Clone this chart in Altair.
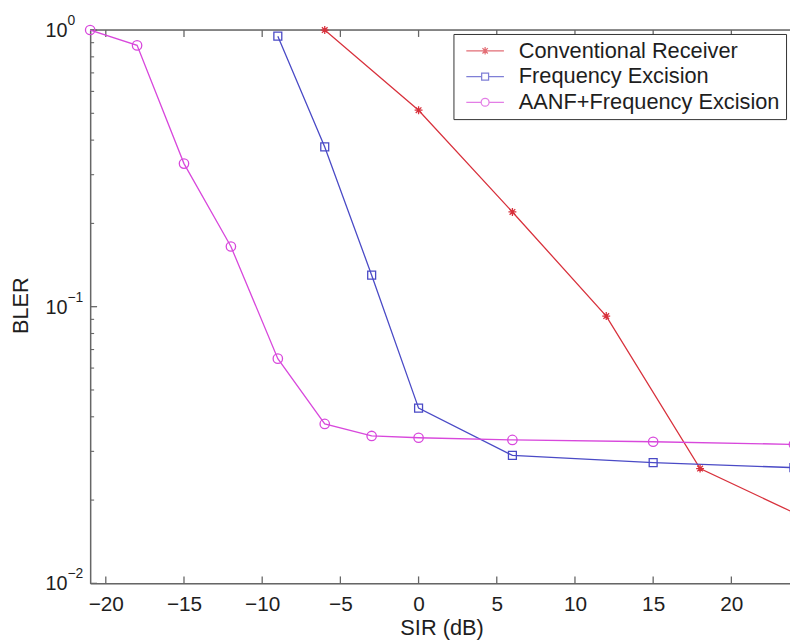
import altair as alt
import pandas as pd

# ---------------- data ----------------
series_names = ["Conventional Receiver", "Frequency Excision", "AANF+Frequency Excision"]
series_colors = ["#d8313c", "#4a4ac6", "#d848dc"]

sir_conv = [-6, 0, 6, 12, 18, 24]
bler_conv = [1.0, 0.513, 0.22, 0.0925, 0.026, 0.018]

sir_fe = [-9, -6, -3, 0, 6, 15, 24]
bler_fe = [0.95, 0.378, 0.13, 0.043, 0.029, 0.0273, 0.0262]

sir_aanf = [-21, -18, -15, -12, -9, -6, -3, 0, 6, 15, 24]
bler_aanf = [1.0, 0.88, 0.329, 0.165, 0.0649, 0.0377, 0.0341, 0.0336, 0.033, 0.0325, 0.0318]

x_ticks = [-20, -15, -10, -5, 0, 5, 10, 15, 20]
y_ticks = [1.0, 0.1, 0.01]
y_tick_base = ["10", "10", "10"]
y_tick_exp = ["0", "\u22121", "\u22122"]
y_minor = [0.02, 0.03, 0.04, 0.05, 0.06, 0.07, 0.08, 0.09,
           0.2, 0.3, 0.4, 0.5, 0.6, 0.7, 0.8, 0.9]

# ---------------- styling ----------------
W, H = 707, 559
FONT = "Liberation Sans"
TXT = "#1e1e1e"
AX = "#666666"

marker_paths = [
    "M-0.8,0H0.8M0,-0.8V0.8M-0.57,-0.57L0.57,0.57M-0.57,0.57L0.57,-0.57",
    "M-0.8,-0.8H0.8V0.8H-0.8Z",
    "M-0.95,0A0.95,0.95,0,1,0,0.95,0A0.95,0.95,0,1,0,-0.95,0Z",
]
legend_paths = [
    "M-1.9,0H1.9M-0.38,0H0.38M0,-0.38V0.38M-0.27,-0.27L0.27,0.27M-0.27,0.27L0.27,-0.27",
    "M-1.9,0H-0.35M0.35,0H1.9M-0.35,-0.35H0.35V0.35H-0.35Z",
    "M-1.9,0H-0.4M0.4,0H1.9M-0.4,0A0.4,0.4,0,1,0,0.4,0A0.4,0.4,0,1,0,-0.4,0Z",
]

rows = []
for name, xs, ys in [(series_names[0], sir_conv, bler_conv),
                     (series_names[1], sir_fe, bler_fe),
                     (series_names[2], sir_aanf, bler_aanf)]:
    for xv, yv in zip(xs, ys):
        rows.append({"series": name, "sir": xv, "bler": yv})
df = pd.DataFrame(rows)

xscale = alt.Scale(domain=[-21, 23.75], nice=False, zero=False)
yscale = alt.Scale(type="log", domain=[0.01, 1], nice=False)
cscale = alt.Scale(domain=series_names, range=series_colors)

legend = alt.Legend(
    title=None, orient="none", legendX=367, legendY=4,
    fillColor="white", strokeColor="#333333", padding=6,
    labelFont=FONT, labelFontSize=22, labelColor=TXT, labelLimit=500,
    symbolSize=400, symbolStrokeWidth=1.25, symbolOffset=15,
    labelOffset=23, rowPadding=4, symbolFillColor="transparent",
)

x_axis = alt.Axis(title="SIR (dB)", values=x_ticks, grid=False, ticks=False, tickSize=0,
                  domainColor=AX, domainWidth=1.5, labelFont=FONT, labelFontSize=21,
                  labelColor=TXT, labelPadding=10,
                  labelExpr="datum.value <= 0 ? datum.label + '\u00a0\u00a0' : datum.label",
                  titleFont=FONT, titleFontSize=22,
                  titleFontWeight="normal", titleColor=TXT, titleY=52, titleX=355,
                  titleAlign="center", titleBaseline="alphabetic")
y_axis = alt.Axis(title="BLER", labels=False, grid=False, ticks=False, tickSize=0,
                  domainColor=AX, domainWidth=1.5, titleFont=FONT, titleFontSize=22,
                  titleFontWeight="normal", titleColor=TXT, titleAngle=270,
                  titleX=-63, titleY=278, titleAlign="center", titleBaseline="alphabetic")

base = alt.Chart(df)

lines = base.mark_line(clip=True, strokeWidth=1.3).encode(
    x=alt.X("sir:Q", scale=xscale, axis=x_axis),
    y=alt.Y("bler:Q", scale=yscale, axis=y_axis),
    color=alt.Color("series:N", scale=cscale, legend=None),
    detail="series:N",
)

points = base.mark_point(filled=False, size=100, strokeWidth=1.3, opacity=1).encode(
    x=alt.X("sir:Q", scale=xscale),
    y=alt.Y("bler:Q", scale=yscale),
    color=alt.Color("series:N", scale=cscale, legend=None),
    shape=alt.Shape("series:N", scale=alt.Scale(domain=series_names, range=marker_paths),
                    legend=None),
)

# legend-only layer (no rows): line + marker symbols
legend_layer = alt.Chart(pd.DataFrame({"series": pd.Series([], dtype=str),
                                       "sir": pd.Series([], dtype=float),
                                       "bler": pd.Series([], dtype=float)})).mark_point(
    filled=False, size=400, strokeWidth=1.25).encode(
    x=alt.X("sir:Q", scale=xscale),
    y=alt.Y("bler:Q", scale=yscale),
    color=alt.Color("series:N", scale=cscale, legend=legend),
    shape=alt.Shape("series:N", scale=alt.Scale(domain=series_names, range=legend_paths),
                    legend=legend),
)

# tick marks drawn inside the frame
xt = pd.DataFrame({"t": x_ticks})
x_ticks_bottom = alt.Chart(xt).mark_rule(color=AX, strokeWidth=1.3).encode(
    x=alt.X("t:Q", scale=xscale), y=alt.value(H), y2=alt.value(H - 7))
x_ticks_top = alt.Chart(xt).mark_rule(color=AX, strokeWidth=1.3).encode(
    x=alt.X("t:Q", scale=xscale), y=alt.value(0), y2=alt.value(7))

yt = pd.DataFrame({"v": y_ticks, "base": y_tick_base, "exp": y_tick_exp})
y_major = alt.Chart(yt).mark_rule(color=AX, strokeWidth=1.3).encode(
    y=alt.Y("v:Q", scale=yscale), x=alt.value(0), x2=alt.value(7))
ym = pd.DataFrame({"v": y_minor})
y_minor_ticks = alt.Chart(ym).mark_rule(color=AX, strokeWidth=1.1).encode(
    y=alt.Y("v:Q", scale=yscale), x=alt.value(0), x2=alt.value(4))

top_frame = alt.Chart(pd.DataFrame({"a": [0]})).mark_rule(color=AX, strokeWidth=1.5).encode(
    y=alt.value(0))

y_lab_base = alt.Chart(yt).mark_text(font=FONT, fontSize=20, color=TXT, align="right",
                                     baseline="middle", dy=1).encode(
    y=alt.Y("v:Q", scale=yscale), x=alt.value(-23), text="base:N")
y_lab_exp = alt.Chart(yt).mark_text(font=FONT, fontSize=14, color=TXT, align="left",
                                    baseline="middle", dy=-9).encode(
    y=alt.Y("v:Q", scale=yscale), x=alt.value(-23), text="exp:N")

chart = alt.layer(
    top_frame, x_ticks_bottom, x_ticks_top, y_major, y_minor_ticks,
    lines, points, legend_layer, y_lab_base, y_lab_exp,
).resolve_scale(
    color="independent", shape="independent",
).properties(
    width=W, height=H,
    padding={"left": 83, "top": 19, "right": 0, "bottom": 57},
    autosize=alt.AutoSizeParams(type="none"),
).configure_view(stroke=None).configure_axis(
    titleFont=FONT,
).configure(background="white")

chart.save("out.html", embed_options={"renderer": "svg", "actions": False})
